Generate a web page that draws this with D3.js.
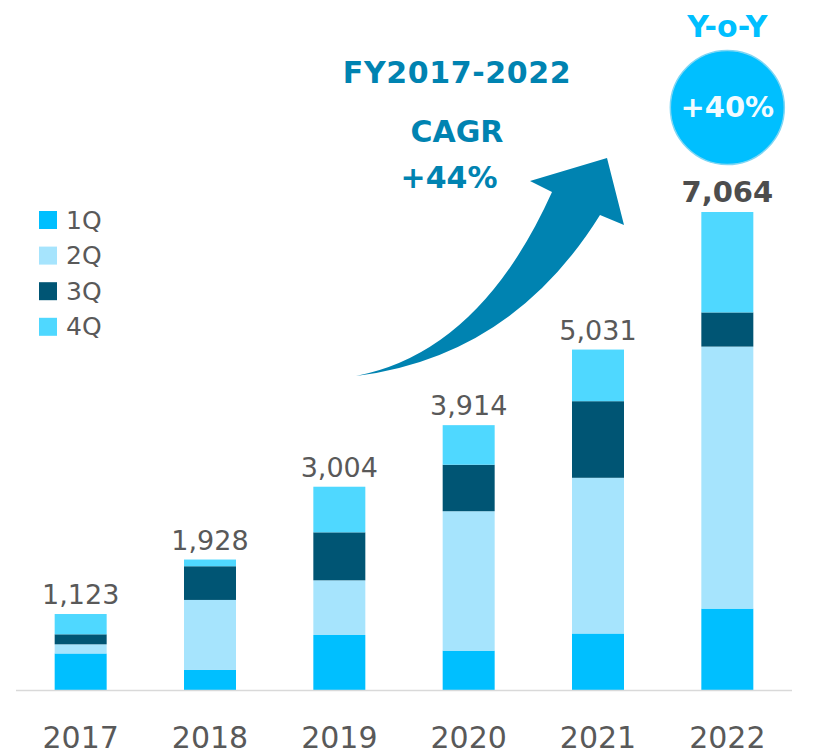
<!DOCTYPE html>
<html>
<head>
<meta charset="utf-8">
<script src="https://cdn.jsdelivr.net/npm/d3@7/dist/d3.min.js"></script>
<style>
  body { margin: 0; background: #fff; }
  svg { display: block; font-family: Verdana, "DejaVu Sans", sans-serif; }
</style>
</head>
<body>
<svg id="chart" width="823" height="752"></svg>
<script>
// data
const years = ['2017', '2018', '2019', '2020', '2021', '2022'];
const quarters = ['1Q', '2Q', '3Q', '4Q'];
const q1 = [540, 296, 813, 582, 835, 1203];
const q2 = [135, 1035, 808, 2060, 2301, 3872];
const q3 = [148, 498, 709, 687, 1132, 505];
const q4 = [300, 99, 674, 585, 763, 1484];
const totals = [1123, 1928, 3004, 3914, 5031, 7064];
const colors = ['#00bfff', '#a6e4fd', '#005574', '#4fd8ff'];

const svg = d3.select('#chart');

const x = d3.scaleBand()
	.domain(years)
	.range([16, 792])
	.paddingInner(0.598)
	.paddingOuter(0.299);

const y = d3.scaleLinear()
	.domain([0, d3.max(totals)])
	.range([690, 212]);

// build stack rows
const rows = years.map((yr, i) => ({ year: yr, '1Q': q1[i], '2Q': q2[i], '3Q': q3[i], '4Q': q4[i] }));
const stacked = d3.stack().keys(quarters)(rows);

svg.append('g')
	.selectAll('g')
	.data(stacked)
	.join('g')
	.attr('fill', (d, i) => colors[i])
	.selectAll('rect')
	.data(d => d)
	.join('rect')
	.attr('x', d => x(d.data.year))
	.attr('y', d => y(d[1]))
	.attr('width', x.bandwidth())
	.attr('height', d => y(d[0]) - y(d[1]));

// base line
svg.append('line')
	.attr('x1', x.range()[0])
	.attr('x2', x.range()[1])
	.attr('y1', y(0) + 0.5)
	.attr('y2', y(0) + 0.5)
	.attr('stroke', '#d9d9d9')
	.attr('stroke-width', 1.5);

// year labels
svg.append('g')
	.selectAll('text')
	.data(years)
	.join('text')
	.attr('x', d => x(d) + x.bandwidth() / 2)
	.attr('y', 748)
	.attr('text-anchor', 'middle')
	.attr('font-size', 30)
	.attr('fill', '#595959')
	.text(d => d);

// totals on top
svg.append('g')
	.selectAll('text')
	.data(totals)
	.join('text')
	.attr('x', (d, i) => x(years[i]) + x.bandwidth() / 2)
	.attr('y', d => y(d) - 10)
	.attr('text-anchor', 'middle')
	.attr('font-size', (d, i) => i === totals.length - 1 ? 29 : 27)
	.attr('font-weight', (d, i) => i === totals.length - 1 ? 'bold' : 'normal')
	.attr('fill', (d, i) => i === totals.length - 1 ? '#4d4d4d' : '#595959')
	.text(d => d3.format(',')(d));

// legend
const legend = svg.append('g')
	.selectAll('g')
	.data(quarters)
	.join('g')
	.attr('transform', (d, i) => `translate(39, ${211 + i * 35.6})`);
legend.append('rect')
	.attr('width', 18)
	.attr('height', 18)
	.attr('fill', (d, i) => colors[i]);
legend.append('text')
	.attr('x', 27)
	.attr('y', 17.5)
	.attr('font-size', 25)
	.attr('fill', '#595959')
	.text(d => d);

// CAGR arrow
svg.append('path')
	.attr('d', 'M356,376 Q480,352 552,192 L530,181 L607,158 L624,225 L600,215 Q512,356.5 356,376 Z')
	.attr('fill', '#0083b1');

const cagr = svg.append('g')
	.attr('fill', '#0083b1')
	.attr('font-weight', 'bold')
	.attr('font-size', 30)
	.attr('text-anchor', 'middle');
cagr.append('text').attr('x', 457).attr('y', 83).attr('letter-spacing', 0.6).text('FY2017-2022');
cagr.append('text').attr('x', 457).attr('y', 142).text('CAGR');
cagr.append('text').attr('x', 449).attr('y', 188).text('+44%');

// yoy badge
const cx = x('2022') + x.bandwidth() / 2;
svg.append('text')
	.attr('x', cx)
	.attr('y', 37)
	.attr('text-anchor', 'middle')
	.attr('font-size', 30)
	.attr('font-weight', 'bold')
	.attr('fill', '#00bfff')
	.text('Y-o-Y');
svg.append('circle')
	.attr('cx', cx)
	.attr('cy', 107.5)
	.attr('r', 57)
	.attr('fill', '#00bfff')
	.attr('stroke', '#7fd6f4')
	.attr('stroke-width', 1.5);
svg.append('text')
	.attr('x', cx)
	.attr('y', 117)
	.attr('text-anchor', 'middle')
	.attr('font-size', 29)
	.attr('font-weight', 'bold')
	.attr('fill', '#f2fbff')
	.text('+40%');
</script>
</body>
</html>
